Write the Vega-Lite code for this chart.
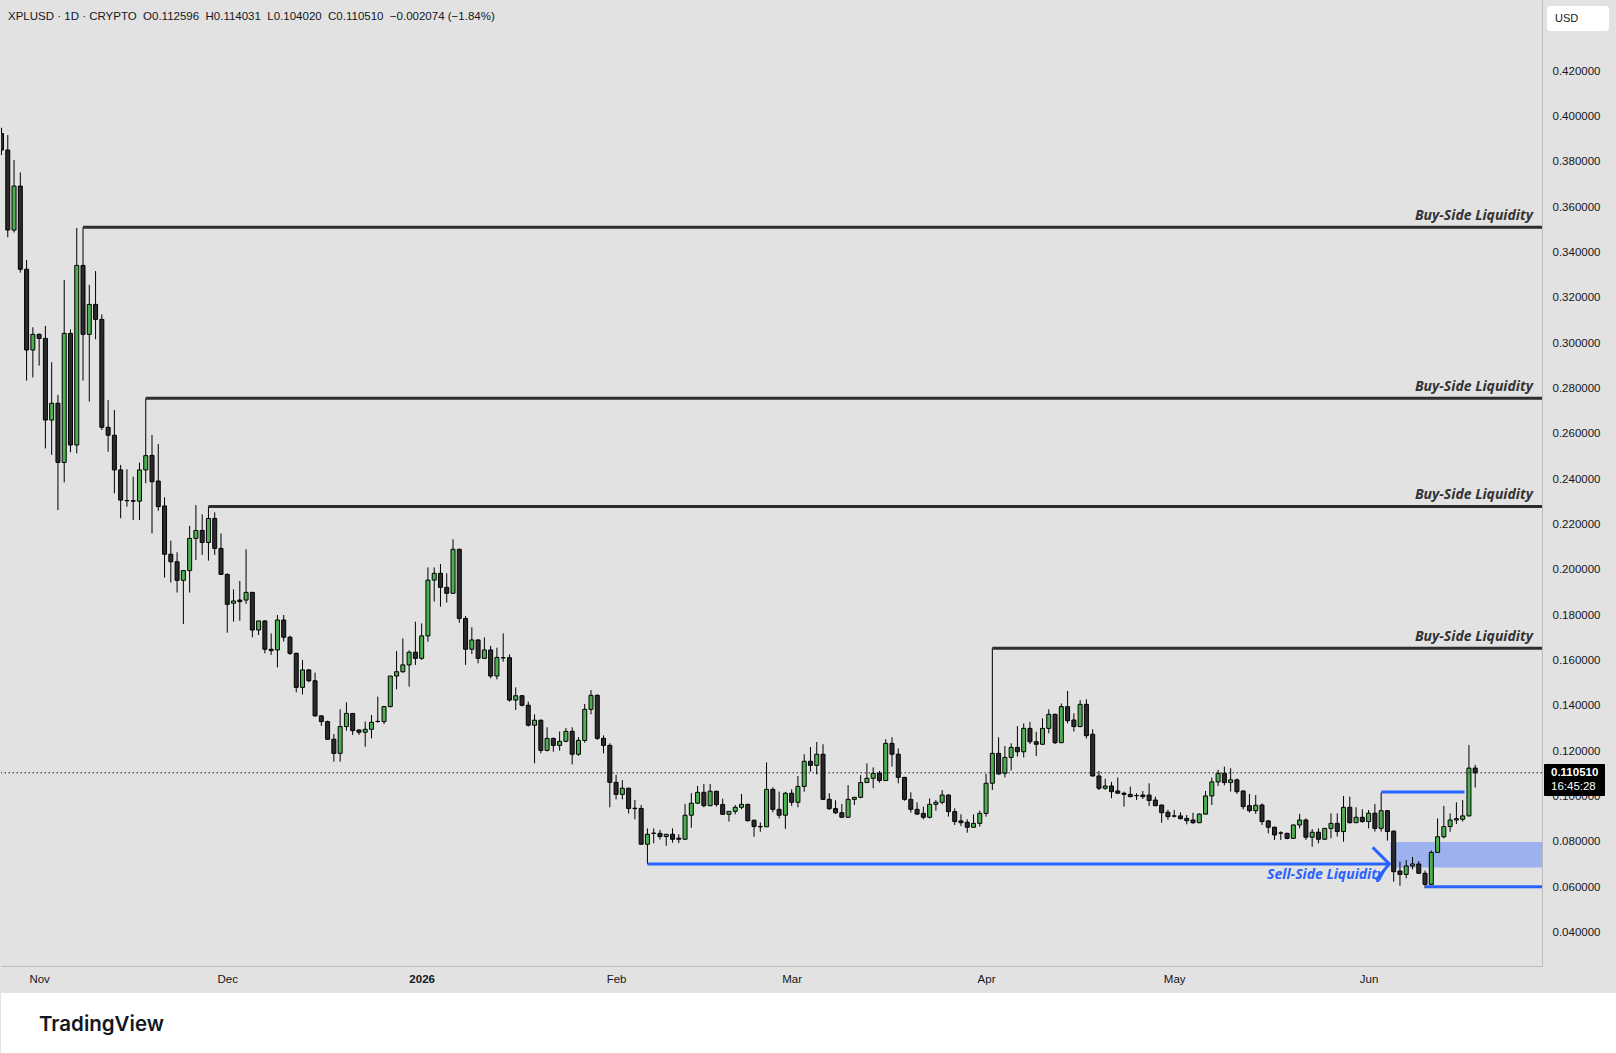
{
  "$schema": "https://vega.github.io/schema/vega-lite/v6.json",
  "background": "#e2e2e2",
  "padding": 0,
  "spacing": 0,
  "config": {
    "view": {"stroke": null},
    "axis": {"grid": false, "ticks": false, "tickSize": 0, "labelFont": "Liberation Sans", "labelFontSize": 11.5, "labelColor": "#131722", "domainColor": "#bdbdbd", "domainWidth": 1, "labelOverlap": false, "labelFlush": false, "labelBound": false, "title": null}
  },
  "datasets": {
    "candles": [
      {"date":"2025-10-26","open":0.3925,"high":0.3950,"low":0.3830,"close":0.3852},
      {"date":"2025-10-27","open":0.3852,"high":0.3918,"low":0.3467,"close":0.3499},
      {"date":"2025-10-28","open":0.3499,"high":0.3808,"low":0.3488,"close":0.3693},
      {"date":"2025-10-29","open":0.3693,"high":0.3753,"low":0.3311,"close":0.3326},
      {"date":"2025-10-30","open":0.3326,"high":0.3367,"low":0.2835,"close":0.2970},
      {"date":"2025-10-31","open":0.2970,"high":0.3070,"low":0.2849,"close":0.3039},
      {"date":"2025-11-01","open":0.3039,"high":0.3043,"low":0.2901,"close":0.3021},
      {"date":"2025-11-02","open":0.3021,"high":0.3076,"low":0.2536,"close":0.2661},
      {"date":"2025-11-03","open":0.2661,"high":0.2916,"low":0.2507,"close":0.2735},
      {"date":"2025-11-04","open":0.2735,"high":0.2772,"low":0.2264,"close":0.2474},
      {"date":"2025-11-05","open":0.2474,"high":0.3279,"low":0.2386,"close":0.3043},
      {"date":"2025-11-06","open":0.3043,"high":0.3061,"low":0.2519,"close":0.2551},
      {"date":"2025-11-07","open":0.2551,"high":0.3508,"low":0.2514,"close":0.3343},
      {"date":"2025-11-08","open":0.3343,"high":0.3511,"low":0.2835,"close":0.3039},
      {"date":"2025-11-09","open":0.3039,"high":0.3257,"low":0.2742,"close":0.3171},
      {"date":"2025-11-10","open":0.3171,"high":0.3318,"low":0.3017,"close":0.3105},
      {"date":"2025-11-11","open":0.3105,"high":0.3127,"low":0.2617,"close":0.2629},
      {"date":"2025-11-12","open":0.2629,"high":0.2749,"low":0.2521,"close":0.2594},
      {"date":"2025-11-13","open":0.2594,"high":0.2705,"low":0.2338,"close":0.2441},
      {"date":"2025-11-14","open":0.2441,"high":0.2463,"low":0.2228,"close":0.2308},
      {"date":"2025-11-15","open":0.2306,"high":0.2444,"low":0.2279,"close":0.2305},
      {"date":"2025-11-16","open":0.2305,"high":0.2411,"low":0.2220,"close":0.2303},
      {"date":"2025-11-17","open":0.2303,"high":0.2473,"low":0.2220,"close":0.2441},
      {"date":"2025-11-18","open":0.2441,"high":0.2757,"low":0.2382,"close":0.2504},
      {"date":"2025-11-19","open":0.2505,"high":0.2595,"low":0.2161,"close":0.2389},
      {"date":"2025-11-20","open":0.2392,"high":0.2555,"low":0.2261,"close":0.2279},
      {"date":"2025-11-21","open":0.2282,"high":0.2320,"low":0.1966,"close":0.2069},
      {"date":"2025-11-22","open":0.2069,"high":0.2129,"low":0.1944,"close":0.2036},
      {"date":"2025-11-23","open":0.2036,"high":0.2078,"low":0.1900,"close":0.1954},
      {"date":"2025-11-24","open":0.1954,"high":0.1997,"low":0.1761,"close":0.1997},
      {"date":"2025-11-25","open":0.1997,"high":0.2194,"low":0.1900,"close":0.2139},
      {"date":"2025-11-26","open":0.2139,"high":0.2286,"low":0.2044,"close":0.2174},
      {"date":"2025-11-27","open":0.2174,"high":0.2245,"low":0.2066,"close":0.2121},
      {"date":"2025-11-28","open":0.2121,"high":0.2280,"low":0.2041,"close":0.2227},
      {"date":"2025-11-29","open":0.2227,"high":0.2254,"low":0.2066,"close":0.2095},
      {"date":"2025-11-30","open":0.2095,"high":0.2161,"low":0.1978,"close":0.1980},
      {"date":"2025-12-01","open":0.1980,"high":0.1985,"low":0.1723,"close":0.1848},
      {"date":"2025-12-02","open":0.1853,"high":0.1914,"low":0.1772,"close":0.1863},
      {"date":"2025-12-03","open":0.1867,"high":0.1951,"low":0.1776,"close":0.1860},
      {"date":"2025-12-04","open":0.1867,"high":0.2091,"low":0.1850,"close":0.1901},
      {"date":"2025-12-05","open":0.1901,"high":0.1903,"low":0.1703,"close":0.1735},
      {"date":"2025-12-06","open":0.1735,"high":0.1775,"low":0.1713,"close":0.1775},
      {"date":"2025-12-07","open":0.1775,"high":0.1777,"low":0.1632,"close":0.1650},
      {"date":"2025-12-08","open":0.1650,"high":0.1720,"low":0.1625,"close":0.1644},
      {"date":"2025-12-09","open":0.1647,"high":0.1801,"low":0.1570,"close":0.1779},
      {"date":"2025-12-10","open":0.1779,"high":0.1801,"low":0.1684,"close":0.1703},
      {"date":"2025-12-11","open":0.1703,"high":0.1710,"low":0.1625,"close":0.1632},
      {"date":"2025-12-12","open":0.1632,"high":0.1635,"low":0.1460,"close":0.1482},
      {"date":"2025-12-13","open":0.1482,"high":0.1603,"low":0.1451,"close":0.1559},
      {"date":"2025-12-14","open":0.1559,"high":0.1562,"low":0.1505,"close":0.1511},
      {"date":"2025-12-15","open":0.1511,"high":0.1547,"low":0.1353,"close":0.1356},
      {"date":"2025-12-16","open":0.1356,"high":0.1360,"low":0.1312,"close":0.1331},
      {"date":"2025-12-17","open":0.1331,"high":0.1335,"low":0.1251,"close":0.1253},
      {"date":"2025-12-18","open":0.1253,"high":0.1276,"low":0.1154,"close":0.1191},
      {"date":"2025-12-19","open":0.1191,"high":0.1385,"low":0.1154,"close":0.1309},
      {"date":"2025-12-20","open":0.1309,"high":0.1416,"low":0.1291,"close":0.1367},
      {"date":"2025-12-21","open":0.1367,"high":0.1369,"low":0.1272,"close":0.1291},
      {"date":"2025-12-22","open":0.1294,"high":0.1296,"low":0.1272,"close":0.1284},
      {"date":"2025-12-23","open":0.1284,"high":0.1331,"low":0.1220,"close":0.1297},
      {"date":"2025-12-24","open":0.1297,"high":0.1360,"low":0.1257,"close":0.1328},
      {"date":"2025-12-25","open":0.1331,"high":0.1441,"low":0.1327,"close":0.1332},
      {"date":"2025-12-26","open":0.1331,"high":0.1400,"low":0.1320,"close":0.1397},
      {"date":"2025-12-27","open":0.1397,"high":0.1532,"low":0.1394,"close":0.1532},
      {"date":"2025-12-28","open":0.1532,"high":0.1642,"low":0.1473,"close":0.1551},
      {"date":"2025-12-29","open":0.1551,"high":0.1698,"low":0.1546,"close":0.1581},
      {"date":"2025-12-30","open":0.1581,"high":0.1645,"low":0.1485,"close":0.1637},
      {"date":"2025-12-31","open":0.1637,"high":0.1772,"low":0.1581,"close":0.1610},
      {"date":"2026-01-01","open":0.1610,"high":0.1764,"low":0.1603,"close":0.1709},
      {"date":"2026-01-02","open":0.1709,"high":0.2011,"low":0.1683,"close":0.1955},
      {"date":"2026-01-03","open":0.1955,"high":0.2011,"low":0.1860,"close":0.1985},
      {"date":"2026-01-04","open":0.1985,"high":0.2026,"low":0.1838,"close":0.1923},
      {"date":"2026-01-05","open":0.1923,"high":0.1985,"low":0.1856,"close":0.1897},
      {"date":"2026-01-06","open":0.1897,"high":0.2135,"low":0.1895,"close":0.2091},
      {"date":"2026-01-07","open":0.2091,"high":0.2093,"low":0.1767,"close":0.1786},
      {"date":"2026-01-08","open":0.1786,"high":0.1797,"low":0.1581,"close":0.1650},
      {"date":"2026-01-09","open":0.1650,"high":0.1747,"low":0.1629,"close":0.1691},
      {"date":"2026-01-10","open":0.1691,"high":0.1693,"low":0.1588,"close":0.1610},
      {"date":"2026-01-11","open":0.1610,"high":0.1702,"low":0.1607,"close":0.1647},
      {"date":"2026-01-12","open":0.1647,"high":0.1665,"low":0.1522,"close":0.1532},
      {"date":"2026-01-13","open":0.1532,"high":0.1657,"low":0.1517,"close":0.1614},
      {"date":"2026-01-14","open":0.1613,"high":0.1720,"low":0.1595,"close":0.1612},
      {"date":"2026-01-15","open":0.1613,"high":0.1627,"low":0.1419,"close":0.1426},
      {"date":"2026-01-16","open":0.1426,"high":0.1482,"low":0.1382,"close":0.1445},
      {"date":"2026-01-17","open":0.1445,"high":0.1448,"low":0.1398,"close":0.1403},
      {"date":"2026-01-18","open":0.1403,"high":0.1419,"low":0.1309,"close":0.1315},
      {"date":"2026-01-19","open":0.1315,"high":0.1363,"low":0.1147,"close":0.1337},
      {"date":"2026-01-20","open":0.1337,"high":0.1340,"low":0.1191,"close":0.1204},
      {"date":"2026-01-21","open":0.1204,"high":0.1306,"low":0.1200,"close":0.1257},
      {"date":"2026-01-22","open":0.1257,"high":0.1260,"low":0.1198,"close":0.1226},
      {"date":"2026-01-23","open":0.1226,"high":0.1287,"low":0.1203,"close":0.1244},
      {"date":"2026-01-24","open":0.1244,"high":0.1303,"low":0.1240,"close":0.1288},
      {"date":"2026-01-25","open":0.1288,"high":0.1306,"low":0.1142,"close":0.1187},
      {"date":"2026-01-26","open":0.1187,"high":0.1262,"low":0.1180,"close":0.1248},
      {"date":"2026-01-27","open":0.1248,"high":0.1409,"low":0.1238,"close":0.1385},
      {"date":"2026-01-28","open":0.1385,"high":0.1470,"low":0.1363,"close":0.1447},
      {"date":"2026-01-29","open":0.1447,"high":0.1451,"low":0.1250,"close":0.1257},
      {"date":"2026-01-30","open":0.1257,"high":0.1270,"low":0.1191,"close":0.1226},
      {"date":"2026-01-31","open":0.1226,"high":0.1235,"low":0.0953,"close":0.1063},
      {"date":"2026-02-01","open":0.1063,"high":0.1096,"low":0.0988,"close":0.1010},
      {"date":"2026-02-02","open":0.1010,"high":0.1073,"low":0.0988,"close":0.1037},
      {"date":"2026-02-03","open":0.1037,"high":0.1040,"low":0.0926,"close":0.0948},
      {"date":"2026-02-04","open":0.0949,"high":0.0985,"low":0.0900,"close":0.0947},
      {"date":"2026-02-05","open":0.0948,"high":0.0963,"low":0.0789,"close":0.0790},
      {"date":"2026-02-06","open":0.0790,"high":0.0860,"low":0.0703,"close":0.0834},
      {"date":"2026-02-07","open":0.0838,"high":0.0860,"low":0.0794,"close":0.0839},
      {"date":"2026-02-08","open":0.0838,"high":0.0853,"low":0.0811,"close":0.0824},
      {"date":"2026-02-09","open":0.0824,"high":0.0834,"low":0.0783,"close":0.0834},
      {"date":"2026-02-10","open":0.0834,"high":0.0860,"low":0.0797,"close":0.0812},
      {"date":"2026-02-11","open":0.0817,"high":0.0834,"low":0.0795,"close":0.0812},
      {"date":"2026-02-12","open":0.0812,"high":0.0967,"low":0.0810,"close":0.0918},
      {"date":"2026-02-13","open":0.0918,"high":0.1015,"low":0.0863,"close":0.0971},
      {"date":"2026-02-14","open":0.0971,"high":0.1047,"low":0.0968,"close":0.1019},
      {"date":"2026-02-15","open":0.1019,"high":0.1056,"low":0.0953,"close":0.0960},
      {"date":"2026-02-16","open":0.0960,"high":0.1056,"low":0.0958,"close":0.1024},
      {"date":"2026-02-17","open":0.1024,"high":0.1025,"low":0.0956,"close":0.0965},
      {"date":"2026-02-18","open":0.0965,"high":0.0991,"low":0.0920,"close":0.0922},
      {"date":"2026-02-19","open":0.0922,"high":0.0935,"low":0.0890,"close":0.0935},
      {"date":"2026-02-20","open":0.0935,"high":0.0963,"low":0.0922,"close":0.0953},
      {"date":"2026-02-21","open":0.0953,"high":0.1012,"low":0.0944,"close":0.0966},
      {"date":"2026-02-22","open":0.0966,"high":0.0968,"low":0.0890,"close":0.0894},
      {"date":"2026-02-23","open":0.0896,"high":0.0898,"low":0.0823,"close":0.0868},
      {"date":"2026-02-24","open":0.0868,"high":0.0886,"low":0.0845,"close":0.0867},
      {"date":"2026-02-25","open":0.0867,"high":0.1151,"low":0.0866,"close":0.1032},
      {"date":"2026-02-26","open":0.1032,"high":0.1041,"low":0.0931,"close":0.0944},
      {"date":"2026-02-27","open":0.0944,"high":0.1022,"low":0.0904,"close":0.0918},
      {"date":"2026-02-28","open":0.0918,"high":0.1021,"low":0.0858,"close":0.1015},
      {"date":"2026-03-01","open":0.1015,"high":0.1032,"low":0.0959,"close":0.0975},
      {"date":"2026-03-02","open":0.0975,"high":0.1091,"low":0.0953,"close":0.1045},
      {"date":"2026-03-03","open":0.1045,"high":0.1187,"low":0.1022,"close":0.1156},
      {"date":"2026-03-04","open":0.1156,"high":0.1219,"low":0.1110,"close":0.1138},
      {"date":"2026-03-05","open":0.1138,"high":0.1241,"low":0.1098,"close":0.1187},
      {"date":"2026-03-06","open":0.1187,"high":0.1231,"low":0.0985,"close":0.0988},
      {"date":"2026-03-07","open":0.0988,"high":0.1015,"low":0.0941,"close":0.0947},
      {"date":"2026-03-08","open":0.0947,"high":0.0984,"low":0.0923,"close":0.0929},
      {"date":"2026-03-09","open":0.0929,"high":0.0968,"low":0.0907,"close":0.0909},
      {"date":"2026-03-10","open":0.0909,"high":0.1051,"low":0.0907,"close":0.0988},
      {"date":"2026-03-11","open":0.0988,"high":0.0998,"low":0.0963,"close":0.0997},
      {"date":"2026-03-12","open":0.0997,"high":0.1095,"low":0.0993,"close":0.1062},
      {"date":"2026-03-13","open":0.1062,"high":0.1147,"low":0.1060,"close":0.1081},
      {"date":"2026-03-14","open":0.1081,"high":0.1129,"low":0.1037,"close":0.1103},
      {"date":"2026-03-15","open":0.1103,"high":0.1113,"low":0.1062,"close":0.1071},
      {"date":"2026-03-16","open":0.1071,"high":0.1253,"low":0.1069,"close":0.1235},
      {"date":"2026-03-17","open":0.1235,"high":0.1262,"low":0.1132,"close":0.1187},
      {"date":"2026-03-18","open":0.1187,"high":0.1213,"low":0.1059,"close":0.1085},
      {"date":"2026-03-19","open":0.1085,"high":0.1087,"low":0.0982,"close":0.0988},
      {"date":"2026-03-20","open":0.0988,"high":0.1019,"low":0.0929,"close":0.0944},
      {"date":"2026-03-21","open":0.0944,"high":0.0975,"low":0.0919,"close":0.0923},
      {"date":"2026-03-22","open":0.0926,"high":0.0956,"low":0.0900,"close":0.0909},
      {"date":"2026-03-23","open":0.0909,"high":0.0992,"low":0.0904,"close":0.0966},
      {"date":"2026-03-24","open":0.0966,"high":0.0985,"low":0.0938,"close":0.0975},
      {"date":"2026-03-25","open":0.0975,"high":0.1029,"low":0.0966,"close":0.1007},
      {"date":"2026-03-26","open":0.1007,"high":0.1010,"low":0.0912,"close":0.0934},
      {"date":"2026-03-27","open":0.0934,"high":0.0948,"low":0.0875,"close":0.0890},
      {"date":"2026-03-28","open":0.0893,"high":0.0922,"low":0.0870,"close":0.0885},
      {"date":"2026-03-29","open":0.0887,"high":0.0900,"low":0.0841,"close":0.0865},
      {"date":"2026-03-30","open":0.0865,"high":0.0922,"low":0.0863,"close":0.0882},
      {"date":"2026-03-31","open":0.0882,"high":0.0938,"low":0.0868,"close":0.0926},
      {"date":"2026-04-01","open":0.0926,"high":0.1100,"low":0.0912,"close":0.1059},
      {"date":"2026-04-02","open":0.1059,"high":0.1654,"low":0.1029,"close":0.1191},
      {"date":"2026-04-03","open":0.1191,"high":0.1262,"low":0.1097,"close":0.1100},
      {"date":"2026-04-04","open":0.1103,"high":0.1223,"low":0.1085,"close":0.1173},
      {"date":"2026-04-05","open":0.1173,"high":0.1235,"low":0.1115,"close":0.1217},
      {"date":"2026-04-06","open":0.1217,"high":0.1311,"low":0.1177,"close":0.1198},
      {"date":"2026-04-07","open":0.1198,"high":0.1323,"low":0.1173,"close":0.1301},
      {"date":"2026-04-08","open":0.1301,"high":0.1330,"low":0.1232,"close":0.1242},
      {"date":"2026-04-09","open":0.1242,"high":0.1286,"low":0.1179,"close":0.1231},
      {"date":"2026-04-10","open":0.1231,"high":0.1345,"low":0.1229,"close":0.1301},
      {"date":"2026-04-11","open":0.1301,"high":0.1385,"low":0.1279,"close":0.1363},
      {"date":"2026-04-12","open":0.1363,"high":0.1366,"low":0.1232,"close":0.1238},
      {"date":"2026-04-13","open":0.1238,"high":0.1411,"low":0.1236,"close":0.1397},
      {"date":"2026-04-14","open":0.1397,"high":0.1466,"low":0.1323,"close":0.1335},
      {"date":"2026-04-15","open":0.1338,"high":0.1367,"low":0.1287,"close":0.1309},
      {"date":"2026-04-16","open":0.1309,"high":0.1426,"low":0.1306,"close":0.1407},
      {"date":"2026-04-17","open":0.1407,"high":0.1429,"low":0.1257,"close":0.1269},
      {"date":"2026-04-18","open":0.1275,"high":0.1297,"low":0.1089,"close":0.1091},
      {"date":"2026-04-19","open":0.1091,"high":0.1113,"low":0.1029,"close":0.1037},
      {"date":"2026-04-20","open":0.1037,"high":0.1079,"low":0.1030,"close":0.1047},
      {"date":"2026-04-21","open":0.1047,"high":0.1065,"low":0.0993,"close":0.1022},
      {"date":"2026-04-22","open":0.1025,"high":0.1084,"low":0.1013,"close":0.1015},
      {"date":"2026-04-23","open":0.1015,"high":0.1022,"low":0.0956,"close":0.1010},
      {"date":"2026-04-24","open":0.1010,"high":0.1044,"low":0.0997,"close":0.1000},
      {"date":"2026-04-25","open":0.1005,"high":0.1015,"low":0.0985,"close":0.1004},
      {"date":"2026-04-26","open":0.1007,"high":0.1025,"low":0.0990,"close":0.1000},
      {"date":"2026-04-27","open":0.1007,"high":0.1059,"low":0.0959,"close":0.0983},
      {"date":"2026-04-28","open":0.0985,"high":0.1000,"low":0.0958,"close":0.0960},
      {"date":"2026-04-29","open":0.0963,"high":0.0965,"low":0.0885,"close":0.0929},
      {"date":"2026-04-30","open":0.0931,"high":0.0942,"low":0.0898,"close":0.0912},
      {"date":"2026-05-01","open":0.0915,"high":0.0942,"low":0.0908,"close":0.0914},
      {"date":"2026-05-02","open":0.0915,"high":0.0931,"low":0.0899,"close":0.0903},
      {"date":"2026-05-03","open":0.0904,"high":0.0919,"low":0.0878,"close":0.0894},
      {"date":"2026-05-04","open":0.0897,"high":0.0929,"low":0.0880,"close":0.0885},
      {"date":"2026-05-05","open":0.0885,"high":0.0926,"low":0.0883,"close":0.0923},
      {"date":"2026-05-06","open":0.0923,"high":0.1025,"low":0.0921,"close":0.1003},
      {"date":"2026-05-07","open":0.1003,"high":0.1084,"low":0.0963,"close":0.1065},
      {"date":"2026-05-08","open":0.1065,"high":0.1118,"low":0.1047,"close":0.1103},
      {"date":"2026-05-09","open":0.1103,"high":0.1132,"low":0.1050,"close":0.1062},
      {"date":"2026-05-10","open":0.1062,"high":0.1125,"low":0.1022,"close":0.1074},
      {"date":"2026-05-11","open":0.1074,"high":0.1080,"low":0.1012,"close":0.1022},
      {"date":"2026-05-12","open":0.1025,"high":0.1027,"low":0.0944,"close":0.0956},
      {"date":"2026-05-13","open":0.0960,"high":0.1012,"low":0.0930,"close":0.0938},
      {"date":"2026-05-14","open":0.0938,"high":0.1007,"low":0.0924,"close":0.0962},
      {"date":"2026-05-15","open":0.0963,"high":0.0970,"low":0.0875,"close":0.0890},
      {"date":"2026-05-16","open":0.0893,"high":0.0897,"low":0.0838,"close":0.0865},
      {"date":"2026-05-17","open":0.0865,"high":0.0868,"low":0.0809,"close":0.0831},
      {"date":"2026-05-18","open":0.0840,"high":0.0847,"low":0.0809,"close":0.0839},
      {"date":"2026-05-19","open":0.0838,"high":0.0841,"low":0.0812,"close":0.0816},
      {"date":"2026-05-20","open":0.0816,"high":0.0877,"low":0.0814,"close":0.0875},
      {"date":"2026-05-21","open":0.0875,"high":0.0924,"low":0.0860,"close":0.0897},
      {"date":"2026-05-22","open":0.0897,"high":0.0904,"low":0.0809,"close":0.0821},
      {"date":"2026-05-23","open":0.0821,"high":0.0857,"low":0.0779,"close":0.0843},
      {"date":"2026-05-24","open":0.0843,"high":0.0860,"low":0.0794,"close":0.0812},
      {"date":"2026-05-25","open":0.0812,"high":0.0862,"low":0.0809,"close":0.0860},
      {"date":"2026-05-26","open":0.0860,"high":0.0926,"low":0.0816,"close":0.0882},
      {"date":"2026-05-27","open":0.0882,"high":0.0926,"low":0.0824,"close":0.0846},
      {"date":"2026-05-28","open":0.0846,"high":0.1003,"low":0.0801,"close":0.0953},
      {"date":"2026-05-29","open":0.0953,"high":0.1000,"low":0.0882,"close":0.0885},
      {"date":"2026-05-30","open":0.0885,"high":0.0953,"low":0.0884,"close":0.0909},
      {"date":"2026-05-31","open":0.0909,"high":0.0944,"low":0.0885,"close":0.0890},
      {"date":"2026-06-01","open":0.0890,"high":0.0941,"low":0.0860,"close":0.0927},
      {"date":"2026-06-02","open":0.0927,"high":0.0968,"low":0.0846,"close":0.0860},
      {"date":"2026-06-03","open":0.0860,"high":0.1018,"low":0.0846,"close":0.0938},
      {"date":"2026-06-04","open":0.0938,"high":0.0941,"low":0.0806,"close":0.0846},
      {"date":"2026-06-05","open":0.0848,"high":0.0850,"low":0.0625,"close":0.0669},
      {"date":"2026-06-06","open":0.0672,"high":0.0713,"low":0.0607,"close":0.0657},
      {"date":"2026-06-07","open":0.0657,"high":0.0720,"low":0.0640,"close":0.0694},
      {"date":"2026-06-08","open":0.0694,"high":0.0734,"low":0.0679,"close":0.0703},
      {"date":"2026-06-09","open":0.0703,"high":0.0716,"low":0.0660,"close":0.0662},
      {"date":"2026-06-10","open":0.0662,"high":0.0674,"low":0.0596,"close":0.0613},
      {"date":"2026-06-11","open":0.0613,"high":0.0762,"low":0.0611,"close":0.0754},
      {"date":"2026-06-12","open":0.0754,"high":0.0904,"low":0.0752,"close":0.0823},
      {"date":"2026-06-13","open":0.0823,"high":0.0959,"low":0.0816,"close":0.0868},
      {"date":"2026-06-14","open":0.0868,"high":0.0926,"low":0.0845,"close":0.0897},
      {"date":"2026-06-15","open":0.0897,"high":0.0975,"low":0.0879,"close":0.0903},
      {"date":"2026-06-16","open":0.0900,"high":0.0985,"low":0.0890,"close":0.0915},
      {"date":"2026-06-17","open":0.0915,"high":0.1228,"low":0.0913,"close":0.1126},
      {"date":"2026-06-18","open":0.112596,"high":0.114031,"low":0.104020,"close":0.110510}
    ],
    "buyLevels": [
      {"label":"Buy-Side Liquidity","start":"2025-11-08","end":"2026-06-28T15:36:00Z","price":0.3511},
      {"label":"Buy-Side Liquidity","start":"2025-11-18","end":"2026-06-28T15:36:00Z","price":0.2757},
      {"label":"Buy-Side Liquidity","start":"2025-11-28","end":"2026-06-28T15:36:00Z","price":0.2280},
      {"label":"Buy-Side Liquidity","start":"2026-04-02","end":"2026-06-28T15:36:00Z","price":0.1654}
    ],
    "blueLevels": [
      {"name":"sell","start":"2026-02-06","end":"2026-06-04T07:12:00Z","price":0.0703},
      {"name":"range high","start":"2026-06-03","end":"2026-06-16T07:00:00Z","price":0.1020},
      {"name":"range low","start":"2026-06-10","end":"2026-06-28T15:36:00Z","price":0.0603}
    ],
    "sellLabel": [
      {"label":"Sell-Side Liquidity","date":"2026-06-04T07:12:00Z","price":0.0703}
    ],
    "arrow": [
      {"date":"2026-06-01T15:36:00Z","price":0.0776,"seq":1},
      {"date":"2026-06-04T07:12:00Z","price":0.0703,"seq":2},
      {"date":"2026-06-02T04:19:00Z","price":0.0632,"seq":3}
    ],
    "zone": [
      {"start":"2026-06-04T12:00:00Z","end":"2026-06-28T15:36:00Z","top":0.0800,"bottom":0.0687}
    ],
    "last": [
      {"price":0.110510,"time":"16:45:28","boxTop":0.11439,"boxBottom":0.10028}
    ]
  },
  "vconcat": [
    {
      "width": 1541,
      "height": 966,
      "title": {
        "text": "XPLUSD · 1D · CRYPTO \u00a0O0.112596 \u00a0H0.114031 \u00a0L0.104020 \u00a0C0.110510 \u00a0−0.002074 (−1.84%)",
        "anchor": "start",
        "frame": "group",
        "orient": "top",
        "offset": -28,
        "baseline": "middle",
        "dx": 7,
        "font": "Liberation Sans",
        "fontSize": 11.5,
        "fontWeight": "normal",
        "color": "#131722"
      },
      "layer": [
        {
          "data": {"name": "zone"},
          "mark": {"type": "rect", "fill": "#2962ff", "fillOpacity": 0.38, "clip": true},
          "encoding": {
            "x": {"field": "start", "type": "temporal", "scale": {"type": "utc", "nice": false, "padding": 0, "domain": [{"year": 2025, "month": 10, "date": 25, "hours": 22, "minutes": 5, "utc": true}, {"year": 2026, "month": 6, "date": 28, "hours": 15, "minutes": 36, "utc": true}]},
              "axis": {"orient": "bottom", "values": [
                {"year": 2025, "month": 11, "date": 1, "utc": true},
                {"year": 2025, "month": 12, "date": 1, "utc": true},
                {"year": 2026, "month": 1, "date": 1, "utc": true},
                {"year": 2026, "month": 2, "date": 1, "utc": true},
                {"year": 2026, "month": 3, "date": 1, "utc": true},
                {"year": 2026, "month": 4, "date": 1, "utc": true},
                {"year": 2026, "month": 5, "date": 1, "utc": true},
                {"year": 2026, "month": 6, "date": 1, "utc": true}],
                "labelExpr": "utcmonth(datum.value) == 0 ? utcFormat(datum.value, '%Y') : utcFormat(datum.value, '%b')",
                "labelFontWeight": {"condition": {"test": "utcmonth(datum.value) == 0", "value": "bold"}, "value": "normal"},
                "labelPadding": 13, "labelBaseline": "middle", "minExtent": 27, "maxExtent": 27}},
            "x2": {"field": "end"},
            "y": {"field": "top", "type": "quantitative", "scale": {"domain": [0.0253, 0.45136], "nice": false, "zero": false},
              "axis": {"orient": "right", "values": [0.04,0.06,0.08,0.10,0.12,0.14,0.16,0.18,0.20,0.22,0.24,0.26,0.28,0.30,0.32,0.34,0.36,0.38,0.40,0.42], "format": ".6f", "labelPadding": 10, "labelBaseline": "middle", "minExtent": 75, "maxExtent": 75}},
            "y2": {"field": "bottom"}
          }
        },
        {
          "data": {"name": "candles"},
          "mark": {"type": "rule", "color": "#000000", "strokeWidth": 1, "clip": true},
          "encoding": {
            "x": {"field": "date", "type": "temporal"},
            "y": {"field": "low", "type": "quantitative"},
            "y2": {"field": "high"}
          }
        },
        {
          "data": {"name": "candles"},
          "mark": {"type": "bar", "size": 4, "stroke": "#000000", "strokeWidth": 1, "clip": true},
          "encoding": {
            "x": {"field": "date", "type": "temporal"},
            "y": {"field": "open", "type": "quantitative"},
            "y2": {"field": "close"},
            "color": {"condition": {"test": "datum.close >= datum.open", "value": "#4caf50"}, "value": "#2a2a2a"}
          }
        },
        {
          "data": {"name": "buyLevels"},
          "mark": {"type": "rule", "color": "#2e2e2e", "strokeWidth": 3, "strokeCap": "butt", "clip": true},
          "encoding": {
            "x": {"field": "start", "type": "temporal"},
            "x2": {"field": "end"},
            "y": {"field": "price", "type": "quantitative"}
          }
        },
        {
          "data": {"name": "buyLevels"},
          "mark": {"type": "text", "align": "right", "baseline": "alphabetic", "dx": -9, "dy": -7, "font": "Open Sans", "fontSize": 14, "fontStyle": "italic", "fontWeight": "bold", "color": "#333333"},
          "encoding": {
            "x": {"field": "end", "type": "temporal"},
            "y": {"field": "price", "type": "quantitative"},
            "text": {"field": "label"}
          }
        },
        {
          "data": {"name": "blueLevels"},
          "mark": {"type": "rule", "color": "#2962ff", "strokeWidth": 3, "strokeCap": "butt", "clip": true},
          "encoding": {
            "x": {"field": "start", "type": "temporal"},
            "x2": {"field": "end"},
            "y": {"field": "price", "type": "quantitative"}
          }
        },
        {
          "data": {"name": "arrow"},
          "mark": {"type": "line", "color": "#2962ff", "strokeWidth": 3, "strokeJoin": "miter", "strokeCap": "butt"},
          "encoding": {
            "x": {"field": "date", "type": "temporal"},
            "y": {"field": "price", "type": "quantitative"},
            "order": {"field": "seq", "type": "quantitative"}
          }
        },
        {
          "data": {"name": "sellLabel"},
          "mark": {"type": "text", "align": "right", "baseline": "alphabetic", "dx": -5, "dy": 15, "font": "Open Sans", "fontSize": 14, "fontStyle": "italic", "fontWeight": "bold", "color": "#2962ff"},
          "encoding": {
            "x": {"field": "date", "type": "temporal"},
            "y": {"field": "price", "type": "quantitative"},
            "text": {"field": "label"}
          }
        },
        {
          "data": {"name": "last"},
          "mark": {"type": "rule", "color": "#131722", "strokeWidth": 1, "strokeDash": [1.5, 2.5]},
          "encoding": {
            "y": {"field": "price", "type": "quantitative"}
          }
        },
        {
          "data": {"name": "last"},
          "mark": {"type": "rect", "fill": "#000000", "xOffset": 2, "x2Offset": 63, "cornerRadius": 1},
          "encoding": {
            "x": {"value": "width"},
            "x2": {"value": "width"},
            "y": {"field": "boxTop", "type": "quantitative"},
            "y2": {"field": "boxBottom"}
          }
        },
        {
          "data": {"name": "last"},
          "mark": {"type": "text", "align": "left", "baseline": "middle", "dx": 9, "font": "Liberation Sans", "fontSize": 11.5, "fontWeight": "bold", "color": "#ffffff"},
          "encoding": {
            "x": {"value": "width"},
            "y": {"field": "price", "type": "quantitative"},
            "text": {"field": "price", "type": "quantitative", "format": ".6f"}
          }
        },
        {
          "data": {"name": "last"},
          "mark": {"type": "text", "align": "left", "baseline": "middle", "dx": 9, "dy": 14, "font": "Liberation Sans", "fontSize": 11.5, "color": "#ffffff"},
          "encoding": {
            "x": {"value": "width"},
            "y": {"field": "price", "type": "quantitative"},
            "text": {"field": "time"}
          }
        },
        {
          "data": {"values": [{"unit": "USD", "top": 0.4487, "bottom": 0.4377, "mid": 0.4432}]},
          "layer": [
            {
              "mark": {"type": "rect", "fill": "#ffffff", "xOffset": 5, "x2Offset": 67, "cornerRadius": 3},
              "encoding": {
                "x": {"value": "width"},
                "x2": {"value": "width"},
                "y": {"field": "top", "type": "quantitative"},
                "y2": {"field": "bottom"}
              }
            },
            {
              "mark": {"type": "text", "align": "left", "baseline": "middle", "dx": 13, "font": "Liberation Sans", "fontSize": 11, "color": "#131722"},
              "encoding": {
                "x": {"value": "width"},
                "y": {"field": "mid", "type": "quantitative"},
                "text": {"field": "unit"}
              }
            }
          ]
        }
      ]
    },
    {
      "width": 1616,
      "height": 60,
      "view": {"fill": "#ffffff", "stroke": null},
      "title": {
        "text": "TradingView",
        "anchor": "start",
        "frame": "group",
        "orient": "top",
        "offset": -52,
        "baseline": "middle",
        "dx": 38,
        "font": "Inter",
        "fontSize": 20.5,
        "fontWeight": 600,
        "color": "#131722"
      },
      "data": {"values": []},
      "mark": "text"
    }
  ]
}
